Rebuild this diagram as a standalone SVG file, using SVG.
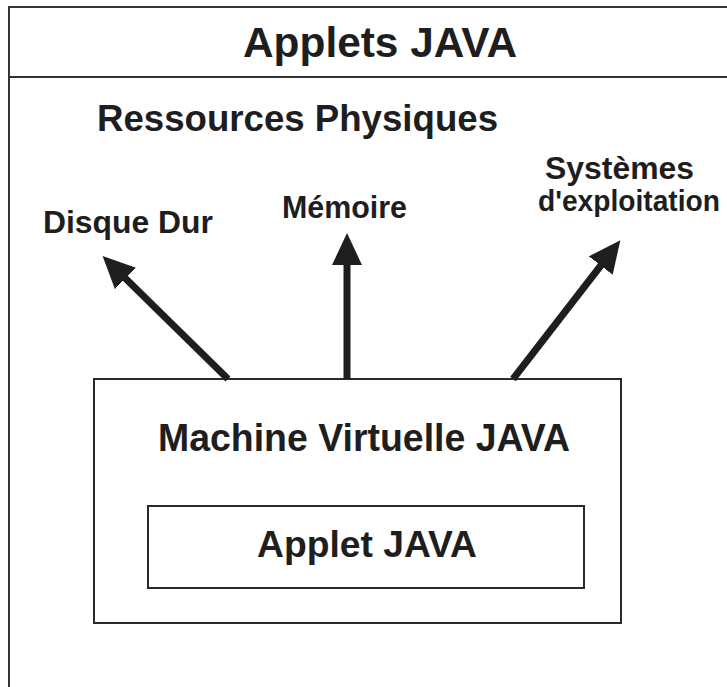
<svg xmlns="http://www.w3.org/2000/svg" width="727" height="687" viewBox="0 0 727 687">
  <style>
    .t { font-family: "Liberation Sans", Arial, sans-serif; font-weight: bold; fill: #1e1e1e; }
    .frame { fill: none; stroke: #333; stroke-width: 2; }
    .box { fill: none; stroke: #2a2a2a; stroke-width: 2; }
    .arrow { fill: none; stroke: #1e1e1e; stroke-width: 7; marker-end: url(#head); }
  </style>
  <defs>
    <marker id="head" viewBox="0 0 32 30" refX="2" refY="15" markerWidth="32" markerHeight="30" markerUnits="userSpaceOnUse" orient="auto">
      <path d="M0,0 L32,15 L0,30 Z" fill="#1e1e1e"/>
    </marker>
  </defs>
  <rect width="727" height="687" fill="#ffffff"/>

  <g id="frame">
    <path class="frame" d="M9,687 V7 H727"/>
    <path class="frame" d="M9,77 H727"/>
    <text class="t" x="380" y="57" font-size="43" text-anchor="middle" textLength="274" lengthAdjust="spacingAndGlyphs">Applets JAVA</text>
  </g>

  <g id="ressources">
    <text class="t" x="97" y="131" font-size="37" textLength="401" lengthAdjust="spacingAndGlyphs">Ressources Physiques</text>
  </g>

  <g id="disque">
    <text class="t" x="43" y="233" font-size="31" textLength="170" lengthAdjust="spacingAndGlyphs">Disque Dur</text>
  </g>

  <g id="memoire">
    <text class="t" x="282" y="218" font-size="31" textLength="125" lengthAdjust="spacingAndGlyphs">Mémoire</text>
  </g>

  <g id="systemes">
    <text class="t" x="545" y="179" font-size="31" textLength="149" lengthAdjust="spacingAndGlyphs">Systèmes</text>
    <text class="t" x="538" y="211" font-size="29" textLength="182" lengthAdjust="spacingAndGlyphs">d'exploitation</text>
  </g>

  <g id="jvm">
    <rect class="box" x="94" y="379" width="527" height="244"/>
    <text class="t" x="364" y="451" font-size="39" text-anchor="middle" textLength="412" lengthAdjust="spacingAndGlyphs">Machine Virtuelle JAVA</text>
  </g>

  <g id="applet">
    <rect class="box" x="148" y="506" width="436" height="82"/>
    <text class="t" x="367" y="557" font-size="37" text-anchor="middle" textLength="220" lengthAdjust="spacingAndGlyphs">Applet JAVA</text>
  </g>

  <g id="connectors">
    <line class="arrow" x1="228" y1="379" x2="124" y2="277"/>
    <line class="arrow" x1="347" y1="379" x2="347" y2="263"/>
    <line class="arrow" x1="513" y1="379" x2="602" y2="264"/>
  </g>
</svg>
